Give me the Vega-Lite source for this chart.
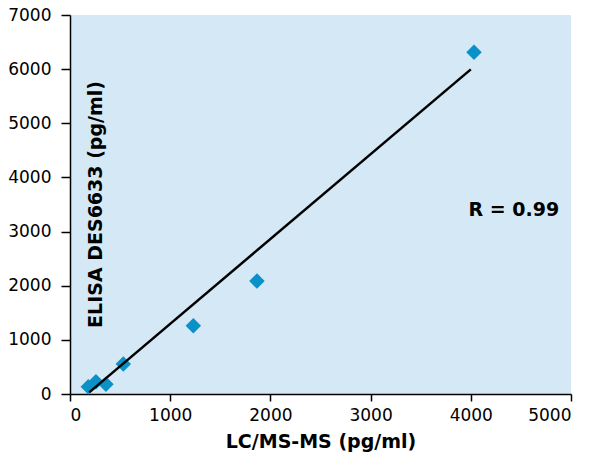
{
  "$schema": "https://vega.github.io/schema/vega-lite/v6.json",
  "width": 501,
  "height": 379,
  "autosize": "none",
  "padding": {"left": 70, "top": 15, "right": 25, "bottom": 68},
  "background": "white",
  "config": {
    "view": {"fill": "#d5e8f5", "stroke": null},
    "font": "DejaVu Sans",
    "axis": {
      "grid": false,
      "format": "d",
      "domainColor": "black",
      "domainWidth": 1.5,
      "tickColor": "black",
      "tickWidth": 1.5,
      "labelColor": "black",
      "labelFontSize": 17,
      "titleColor": "black",
      "titleFontSize": 19,
      "titleFontWeight": "bold"
    }
  },
  "layer": [
    {
      "data": {
        "values": [
          {"lcms": 183, "elisa": 135},
          {"lcms": 259, "elisa": 227},
          {"lcms": 359, "elisa": 179},
          {"lcms": 532, "elisa": 553},
          {"lcms": 1231, "elisa": 1260},
          {"lcms": 1866, "elisa": 2085},
          {"lcms": 4032, "elisa": 6310}
        ]
      },
      "mark": {"type": "point", "shape": "diamond", "filled": true, "size": 240, "color": "#0a91c8", "opacity": 1},
      "encoding": {
        "x": {
          "field": "lcms",
          "type": "quantitative",
          "scale": {"domain": [0, 5000], "nice": false},
          "axis": {
            "title": "LC/MS-MS (pg/ml)",
            "format": "d",
            "values": [0, 1000, 2000, 3000, 4000, 5000],
            "tickSize": 7,
            "labelPadding": 6,
            "titlePadding": 9
          }
        },
        "y": {
          "field": "elisa",
          "type": "quantitative",
          "scale": {"domain": [0, 7000], "nice": false},
          "axis": {
            "title": "ELISA DES6633 (pg/ml)",
            "format": "d",
            "values": [0, 1000, 2000, 3000, 4000, 5000, 6000, 7000],
            "tickSize": 9,
            "labelPadding": 10,
            "titleX": 25,
            "titleY": 189,
            "titleAngle": 270,
            "titleAlign": "center",
            "titleBaseline": "middle"
          }
        }
      }
    },
    {
      "data": {
        "values": [
          {"lcms": 192, "elisa": 30},
          {"lcms": 4000, "elisa": 5995}
        ]
      },
      "mark": {"type": "line", "color": "black", "strokeWidth": 2.5},
      "encoding": {
        "x": {"field": "lcms", "type": "quantitative"},
        "y": {"field": "elisa", "type": "quantitative"}
      }
    },
    {
      "data": {"values": [{"label": "R = 0.99"}]},
      "mark": {"type": "text", "font": "DejaVu Sans", "fontSize": 19, "fontWeight": "bold", "color": "black", "align": "center", "baseline": "middle"},
      "encoding": {
        "x": {"datum": 4430, "type": "quantitative"},
        "y": {"datum": 3400, "type": "quantitative"},
        "text": {"field": "label"}
      }
    }
  ]
}
